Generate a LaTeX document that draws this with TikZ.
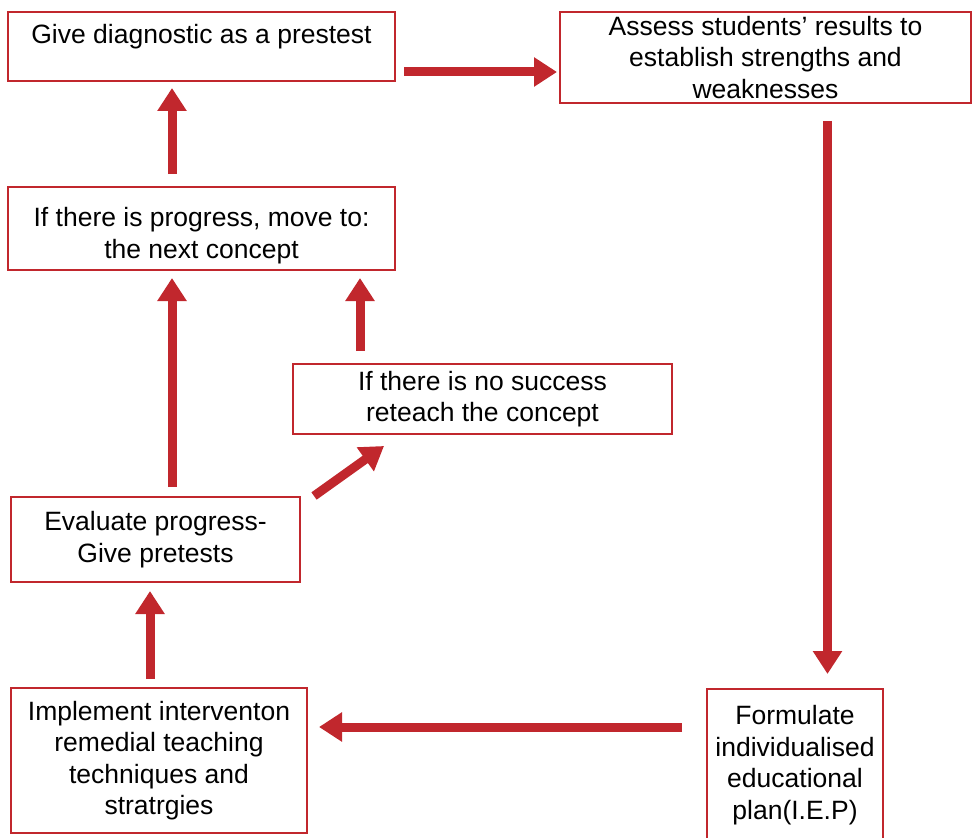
\documentclass[tikz,border=0pt]{standalone}
\usepackage{fontspec}
\setmainfont{Liberation Sans}
\usetikzlibrary{arrows.meta}

\definecolor{iepred}{HTML}{C1272D}

\begin{document}
\begin{tikzpicture}[x = 1pt, y = -1pt,
	box/.style = {draw = iepred, line width = 2pt, align = center, inner sep = 0pt,
		font = \fontsize{26.5}{31.5}\selectfont},
	flow/.style = {draw = iepred, line width = 9pt,
		-{Triangle[length = 23pt, width = 28pt]}}]

	% Page

	\useasboundingbox (0, 0) rectangle (973, 837);

	% Steps

	\node [box, minimum width = 387pt, minimum height = 69pt] (give) at (201.5, 46.5)
		{Give diagnostic as a prestest\\[-16pt] \strut};
	\node [box, minimum width = 411pt, minimum height = 91pt] (assess) at (765.5, 57.5)
		{Assess students’ results to\\establish strengths and\\weaknesses};
	\node [box, minimum width = 387pt, minimum height = 83pt] (progress) at (201.5, 228.5)
		{\strut\\[-20pt] If there is progress, move to:\\the next concept};
	\node [box, minimum width = 379pt, minimum height = 70pt] (reteach) at (482.5, 399)
		{If there is no success\\reteach the concept};
	\node [box, minimum width = 289pt, minimum height = 85pt] (evaluate) at (155.5, 539.5)
		{Evaluate progress-\\Give pretests};
	\node [box, minimum width = 296pt, minimum height = 145pt] (implement) at (159, 760.5)
		{Implement interventon\\remedial teaching\\techniques and\\stratrgies};
	\node [box, minimum width = 176pt, minimum height = 152pt] (iep) at (795, 765)
		{Formulate\\individualised\\educational\\plan(I.E.P)};

	% Arrows

	\draw [flow, shorten < = 8pt, shorten > = 2pt]
		([yshift = -25.5pt] give.east) -- ([yshift = -25.5pt] give.east -| assess.west);
	\draw [flow, shorten < = 17pt, shorten > = 14pt]
		([xshift = 62pt] assess.south) -- ([xshift = 62pt] assess.south |- iep.north);
	\draw [flow, shorten < = 24pt, shorten > = 11pt]
		([yshift = 38pt] iep.west) -- ([yshift = 38pt] iep.west -| implement.east);
	\draw [flow, shorten < = 8pt, shorten > = 8pt]
		([xshift = -9pt] implement.north) -- ([xshift = -9pt] implement.north |- evaluate.south);
	\draw [flow, shorten < = 9pt, shorten > = 7pt]
		([xshift = 16.5pt] evaluate.north) -- ([xshift = 16.5pt] evaluate.north |- progress.south);
	\draw [flow]
		([xshift = 13pt] evaluate.north east) -- ([xshift = 92pt, yshift = -11pt] reteach.south west);
	\draw [flow, shorten < = 12pt, shorten > = 7pt]
		([xshift = -122.5pt] reteach.north) -- ([xshift = -122.5pt] reteach.north |- progress.south);
	\draw [flow, shorten < = 12pt, shorten > = 6pt]
		([xshift = -29.5pt] progress.north) -- ([xshift = -29.5pt] progress.north |- give.south);

\end{tikzpicture}
\end{document}
